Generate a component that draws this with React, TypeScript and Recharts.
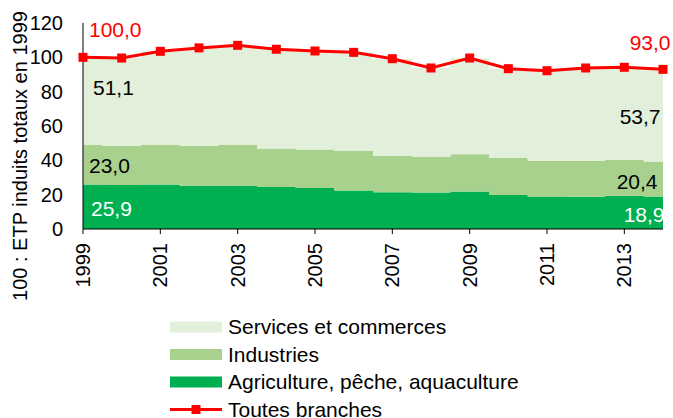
import { ComposedChart, Area, Line, XAxis, YAxis, Legend, LabelList } from 'recharts'

const YEARS = [1999, 2000, 2001, 2002, 2003, 2004, 2005, 2006, 2007, 2008, 2009, 2010, 2011, 2012, 2013, 2014]
const AGRICULTURE = [25.9, 25.7, 25.9, 25.2, 25.2, 24.5, 23.9, 22.4, 21.4, 21.3, 21.8, 19.8, 19.0, 18.8, 19.4, 18.9]
const INDUSTRIES = [23.0, 22.8, 23.1, 23.3, 23.8, 22.4, 22.4, 23.1, 21.2, 20.7, 21.8, 21.5, 20.7, 20.9, 20.9, 20.4]
const SERVICES = [51.1, 51.1, 54.5, 57.0, 58.0, 57.8, 57.4, 57.4, 56.6, 51.8, 56.0, 52.1, 52.5, 54.1, 53.9, 53.7]
const TOTAL = [100.0, 99.6, 103.5, 105.5, 107.0, 104.7, 103.7, 102.9, 99.2, 93.8, 99.6, 93.4, 92.2, 93.8, 94.2, 93.0]

const YEAR_TICKS = [1999, 2001, 2003, 2005, 2007, 2009, 2011, 2013]
const Y_TICKS = [0, 20, 40, 60, 80, 100, 120]

const FONT = '"Liberation Sans", Arial, sans-serif'
const RED = '#ff0000'
const C_SERV = '#e2efda'
const C_IND = '#a9d18e'
const C_AGRI = '#00b050'

const data = YEARS.map((year, i) => ({
  year,
  agri: AGRICULTURE[i],
  ind: INDUSTRIES[i],
  serv: SERVICES[i],
  total: TOTAL[i],
}))

const fmt = (v: number) => v.toFixed(1).replace('.', ',')

// labels only on first and last year, offsets are relative to the point
function edgeLabel(values: number[], color: string, first: [number, number], last: [number, number]) {
  return (props: any) => {
    const { index } = props
    const x = props.x ?? props.viewBox?.x
    const y = props.y ?? props.viewBox?.y
    const n = values.length - 1
    if (index !== 0 && index !== n) return <g />
    const [dx, dy] = index === 0 ? first : last
    return (
      <text x={x + dx} y={y + dy} dy="0.35em" textAnchor={index === 0 ? 'start' : 'end'}
        fill={color} fontSize={21} fontFamily={FONT}>
        {fmt(values[index])}
      </text>
    )
  }
}

function YearTick({ x, y, payload }: any) {
  return (
    <text transform={`translate(${x},${y}) rotate(-90)`} textAnchor="end" dy="0.35em"
      fill="#000" fontSize={20} fontFamily={FONT}>
      {payload.value}
    </text>
  )
}

function YTitle(props: any) {
  const vb = props.viewBox ?? { x: 0, y: 23, height: 206 }
  const cx = vb.x + 20
  const cy = vb.y + vb.height / 2 + 30
  return (
    <text transform={`translate(${cx},${cy}) rotate(-90)`} textAnchor="middle" dy="0.35em"
      fill="#000" fontSize={20} fontFamily={FONT}>
      100 : ETP induits totaux en 1999
    </text>
  )
}

const LEGEND_ROWS = [
  { name: 'Services et commerces', color: C_SERV, kind: 'box' },
  { name: 'Industries', color: C_IND, kind: 'box' },
  { name: 'Agriculture, pêche, aquaculture', color: C_AGRI, kind: 'box' },
  { name: 'Toutes branches', color: RED, kind: 'line' },
]

function LegendBox() {
  return (
    <svg width={420} height={104} style={{ display: 'block' }}>
      {LEGEND_ROWS.map((r, i) => {
        const cy = 14 + i * 27.5
        return (
          <g key={r.name}>
            {r.kind === 'box' ? (
              <rect x={0} y={cy - 5.5} width={52} height={11} fill={r.color} />
            ) : (
              <g>
                <line x1={0} x2={52} y1={cy} y2={cy} stroke={r.color} strokeWidth={3} />
                <rect x={21.5} y={cy - 4.5} width={9} height={9} fill={r.color} />
              </g>
            )}
            <text x={58} y={cy} dy="0.35em" fontSize={21} fontFamily={FONT} fill="#000">{r.name}</text>
          </g>
        )
      })}
    </svg>
  )
}

export default function App() {
  return (
    <div style={{ position: 'absolute', left: 0, top: 0, fontFamily: FONT }}>
      <ComposedChart width={673} height={418} data={data}
        margin={{ top: 23, right: 10, bottom: 129, left: 0 }}>
        <XAxis dataKey="year" type="number" domain={[1999, 2014]} ticks={YEAR_TICKS} interval={0}
          tick={<YearTick />} tickSize={5} tickMargin={9} height={60}
          axisLine={{ stroke: '#000' }} tickLine={{ stroke: '#000' }} />
        <YAxis domain={[0, 120]} ticks={Y_TICKS} interval={0} width={83}
          tickLine={false} tickSize={0} tickMargin={20}
          axisLine={{ stroke: '#000' }} tick={{ fill: '#000', fontSize: 20, fontFamily: FONT }}
          label={<YTitle />} />
        <Area dataKey="agri" stackId="1" type="step" fill={C_AGRI} fillOpacity={1} stroke="none"
          isAnimationActive={false}>
          <LabelList content={edgeLabel(AGRICULTURE, '#fff', [8, 24], [1.5, 18])} />
        </Area>
        <Area dataKey="ind" stackId="1" type="step" fill={C_IND} fillOpacity={1} stroke="none"
          isAnimationActive={false}>
          <LabelList content={edgeLabel(INDUSTRIES, '#000', [6, 21], [-5.5, 20])} />
        </Area>
        <Area dataKey="serv" stackId="1" type="step" fill={C_SERV} fillOpacity={1} stroke="none"
          isAnimationActive={false}>
          <LabelList content={edgeLabel(SERVICES, '#000', [10, 30], [-2.5, 47])} />
        </Area>
        <Line dataKey="total" type="linear" stroke={RED} strokeWidth={3} isAnimationActive={false}
          dot={(p: any) => <rect key={p.index} x={p.cx - 4.5} y={p.cy - 4.5} width={9} height={9} fill={RED} />}>
          <LabelList content={edgeLabel(TOTAL, RED, [6, -28], [7.5, -27])} />
        </Line>
        <Legend layout="vertical" align="center" verticalAlign="middle" content={<LegendBox />}
          wrapperStyle={{ top: 313, left: 170, width: 420 }} />
      </ComposedChart>
    </div>
  )
}
